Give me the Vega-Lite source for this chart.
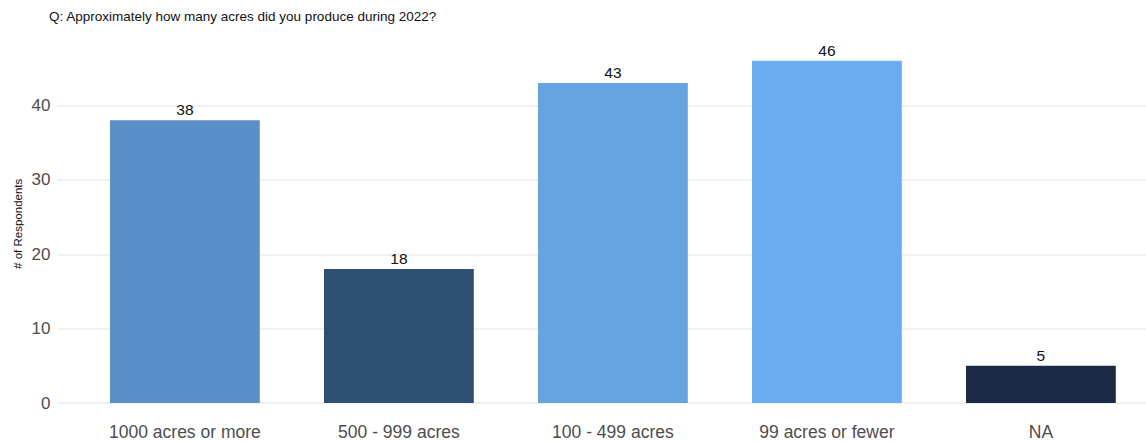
{
  "$schema": "https://vega.github.io/schema/vega-lite/v6.json",
  "width": 1089,
  "height": 359.4,
  "autosize": "none",
  "padding": {"left": 57, "top": 43.6, "right": 0, "bottom": 39},
  "background": "white",
  "title": {
    "text": "Q: Approximately how many acres did you produce during 2022?",
    "anchor": "start",
    "frame": "group",
    "offset": 20,
    "dx": -8,
    "font": "Liberation Sans",
    "fontSize": 13.5,
    "fontWeight": "normal",
    "color": "#111111"
  },
  "config": {
    "view": {"stroke": null},
    "font": "Liberation Sans"
  },
  "data": {
    "values": [
      {"category": "1000 acres or more", "count": 38},
      {"category": "500 - 999 acres", "count": 18},
      {"category": "100 - 499 acres", "count": 43},
      {"category": "99 acres or fewer", "count": 46},
      {"category": "NA", "count": 5}
    ]
  },
  "encoding": {
    "x": {
      "field": "category",
      "type": "nominal",
      "sort": null,
      "scale": {"paddingInner": 0.3, "paddingOuter": 0.1944, "align": 0.637},
      "axis": {
        "title": null,
        "labelAngle": 0,
        "labelFontSize": 17.5,
        "labelColor": "#4d4d4d",
        "labelPadding": 20,
        "ticks": false,
        "domain": false,
        "grid": false
      }
    },
    "y": {
      "field": "count",
      "type": "quantitative",
      "scale": {"domain": [0, 48.3], "nice": false},
      "axis": {
        "title": "# of Respondents",
        "titleFontSize": 11.5,
        "titleFontWeight": "normal",
        "titleColor": "#111111",
        "titlePadding": 8,
        "values": [0, 10, 20, 30, 40],
        "labelFontSize": 17,
        "labelColor": "#4d4d4d",
        "labelPadding": 7,
        "ticks": false,
        "domain": false,
        "grid": true,
        "gridColor": "#ebebeb",
        "gridWidth": 1.5
      }
    }
  },
  "layer": [
    {
      "mark": {"type": "bar"},
      "encoding": {
        "color": {
          "field": "category",
          "type": "nominal",
          "legend": null,
          "scale": {
            "domain": ["1000 acres or more", "500 - 999 acres", "100 - 499 acres", "99 acres or fewer", "NA"],
            "range": ["#5b8fc7", "#2d4f72", "#65a4e0", "#68adef", "#1b2a44"]
          }
        }
      }
    },
    {
      "mark": {"type": "text", "baseline": "bottom", "dy": -2, "fontSize": 15.5, "color": "#111111"},
      "encoding": {"text": {"field": "count", "type": "quantitative"}}
    }
  ]
}
